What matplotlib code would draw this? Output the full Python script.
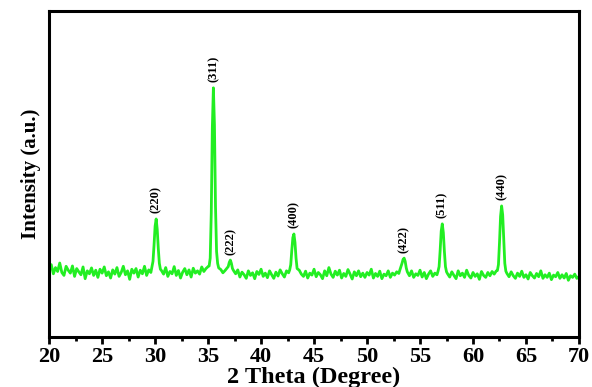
import matplotlib
matplotlib.use("Agg")
import matplotlib.pyplot as plt
from matplotlib.ticker import MultipleLocator

# XRD scan, values (arbitrary units)
two_theta = [
    20.0, 20.2, 20.4, 20.6, 20.8, 21.0, 21.2, 21.4, 21.6, 21.8, 22.0, 22.2, 22.4, 22.6, 22.8,
    23.0, 23.2, 23.4, 23.6, 23.8, 24.0, 24.2, 24.4, 24.6, 24.8, 25.0, 25.2, 25.4, 25.6, 25.8,
    26.0, 26.2, 26.4, 26.6, 26.8, 27.0, 27.2, 27.4, 27.6, 27.8, 28.0, 28.2, 28.4, 28.6, 28.8,
    29.0, 29.2, 29.4, 29.6,
    29.7, 29.8, 29.9, 30.0, 30.1, 30.2, 30.3, 30.4, 30.5,
    30.6, 30.8, 31.0, 31.2, 31.4, 31.6, 31.8, 32.0, 32.2, 32.4, 32.6, 32.8, 33.0, 33.2, 33.4,
    33.6, 33.8, 34.0, 34.2, 34.4, 34.6, 34.8, 35.0,
    35.1, 35.2, 35.3, 35.4, 35.5, 35.6, 35.7, 35.8, 35.9, 36.0,
    36.2, 36.4, 36.6, 36.8,
    36.9, 37.0, 37.1, 37.2, 37.3,
    37.4, 37.6, 37.8, 38.0, 38.2, 38.4, 38.6, 38.8, 39.0, 39.2, 39.4, 39.6, 39.8, 40.0, 40.2,
    40.4, 40.6, 40.8, 41.0, 41.2, 41.4, 41.6, 41.8, 42.0, 42.2, 42.4, 42.6,
    42.7, 42.8, 42.9, 43.0, 43.1, 43.2, 43.3, 43.4,
    43.6, 43.8, 44.0, 44.2, 44.4, 44.6, 44.8, 45.0, 45.2, 45.4, 45.6, 45.8, 46.0, 46.2, 46.4,
    46.6, 46.8, 47.0, 47.2, 47.4, 47.6, 47.8, 48.0, 48.2, 48.4, 48.6, 48.8, 49.0, 49.2, 49.4,
    49.6, 49.8, 50.0, 50.2, 50.4, 50.6, 50.8, 51.0, 51.2, 51.4, 51.6, 51.8, 52.0, 52.2, 52.4,
    52.6, 52.8, 53.0,
    53.1, 53.3, 53.4, 53.5, 53.6, 53.7,
    53.8, 54.0, 54.2, 54.4, 54.6, 54.8, 55.0, 55.2, 55.4, 55.6, 55.8, 56.0, 56.2, 56.4, 56.6,
    56.7, 56.8, 56.9, 57.0, 57.1, 57.2, 57.3, 57.4, 57.5,
    57.6, 57.8, 58.0, 58.2, 58.4, 58.6, 58.8, 59.0, 59.2, 59.4, 59.6, 59.8, 60.0, 60.2, 60.4,
    60.6, 60.8, 61.0, 61.2, 61.4, 61.6, 61.8, 62.0, 62.2,
    62.3, 62.4, 62.5, 62.6, 62.7, 62.8, 62.9, 63.0, 63.1,
    63.2, 63.4, 63.6, 63.8, 64.0, 64.2, 64.4, 64.6, 64.8, 65.0, 65.2, 65.4, 65.6, 65.8, 66.0,
    66.2, 66.4, 66.6, 66.8, 67.0, 67.2, 67.4, 67.6, 67.8, 68.0, 68.2, 68.4, 68.6, 68.8, 69.0,
    69.2, 69.4, 69.6, 69.8, 70.0,
]
intensity = [
    208, 222, 194, 213, 201, 227, 198, 189, 217, 205, 196, 218, 186, 210, 200,
    191, 215, 179, 203, 194, 212, 189, 205, 183, 208, 196, 215, 188, 200, 181,
    206, 193, 213, 186, 198, 217, 191, 203, 177, 208, 196, 210, 184, 205, 194,
    217, 189, 206, 198,
    215, 232, 282, 340, 362, 330, 272, 226, 208,
    204, 193, 213, 186, 201, 194, 216, 189, 204, 181, 199, 210, 191, 206, 184,
    211, 196, 203, 193, 215, 201, 210, 216,
    218, 242, 380, 640, 764, 650, 400, 262, 226, 212,
    207, 197, 204, 212,
    216, 229, 236, 226, 210,
    204, 194, 206, 184, 199, 191, 180, 203, 189, 197, 179, 201, 192, 208, 186,
    196, 182, 203, 191, 180, 199, 187, 206, 194, 184, 203, 197,
    206, 222, 266, 305, 316, 290, 242, 210,
    205, 193, 186, 202, 181, 196, 190, 208, 185, 198, 191, 179, 203, 188, 213,
    193, 183, 202, 190, 205, 181, 195, 186, 207, 193, 178, 200, 188, 203, 185,
    196, 183, 198, 190, 208, 181, 195, 186, 202, 179, 193, 188, 203, 183, 196,
    190, 200, 195,
    206, 226, 238, 242, 232, 212,
    200, 188, 203, 183, 194, 189, 205, 184, 198, 179, 193, 203, 186, 196, 191,
    202, 216, 266, 325, 347, 320, 262, 216, 200,
    194, 184, 200, 189, 179, 203, 188, 196, 183, 205, 189, 181, 198, 186, 194,
    177, 201, 189, 183, 198, 188, 201, 193, 203,
    204, 222, 290, 370, 402, 375, 302, 226, 202,
    195, 185, 200, 188, 180, 196, 186, 202, 183, 191, 178, 198, 188, 181, 195,
    185, 203, 180, 191, 183, 196, 176, 190, 185, 198, 180, 191, 181, 195, 174,
    188, 183, 193, 180, 186,
]

peak_pos = [30.1, 35.5, 37.1, 43.1, 53.5, 57.1, 62.7]
peak_top = [362, 764, 236, 316, 242, 347, 402]
peak_hkl = ["(220)", "(311)", "(222)", "(400)", "(422)", "(511)", "(440)"]

serif = "Liberation Serif"

fig = plt.figure(figsize=(5.92, 3.87), dpi=100)
ax = fig.add_axes([0.083, 0.129, 0.895, 0.843])

ax.plot(two_theta, intensity, color="#22ee22", lw=2.0)

for x, y, lab in zip(peak_pos, peak_top, peak_hkl):
    ax.annotate(lab, (x, y), xytext=(0, 4), textcoords="offset points",
                rotation=90, ha="center", va="bottom",
                fontsize=9, fontweight="bold", family=serif)

ax.set_xlim(20, 70)
ax.set_ylim(0, 1000)
ax.xaxis.set_major_locator(MultipleLocator(5))
ax.xaxis.set_minor_locator(MultipleLocator(2.5))
ax.set_yticks([])
ax.tick_params(axis="x", which="major", direction="out", length=5, width=2, pad=2)
ax.tick_params(axis="x", which="minor", direction="out", length=3, width=2)
for lbl in ax.get_xticklabels():
    lbl.set_fontfamily(serif)
    lbl.set_fontweight("bold")
    lbl.set_fontsize(16)
for s in ax.spines.values():
    s.set_linewidth(2.2)

ax.set_xlabel("2 Theta (Degree)", fontsize=17.5, fontweight="bold", family=serif, labelpad=0)
ax.set_ylabel("Intensity (a.u.)", fontsize=15, fontweight="bold", family=serif, labelpad=6)

fig.savefig("out.png", dpi=100)
